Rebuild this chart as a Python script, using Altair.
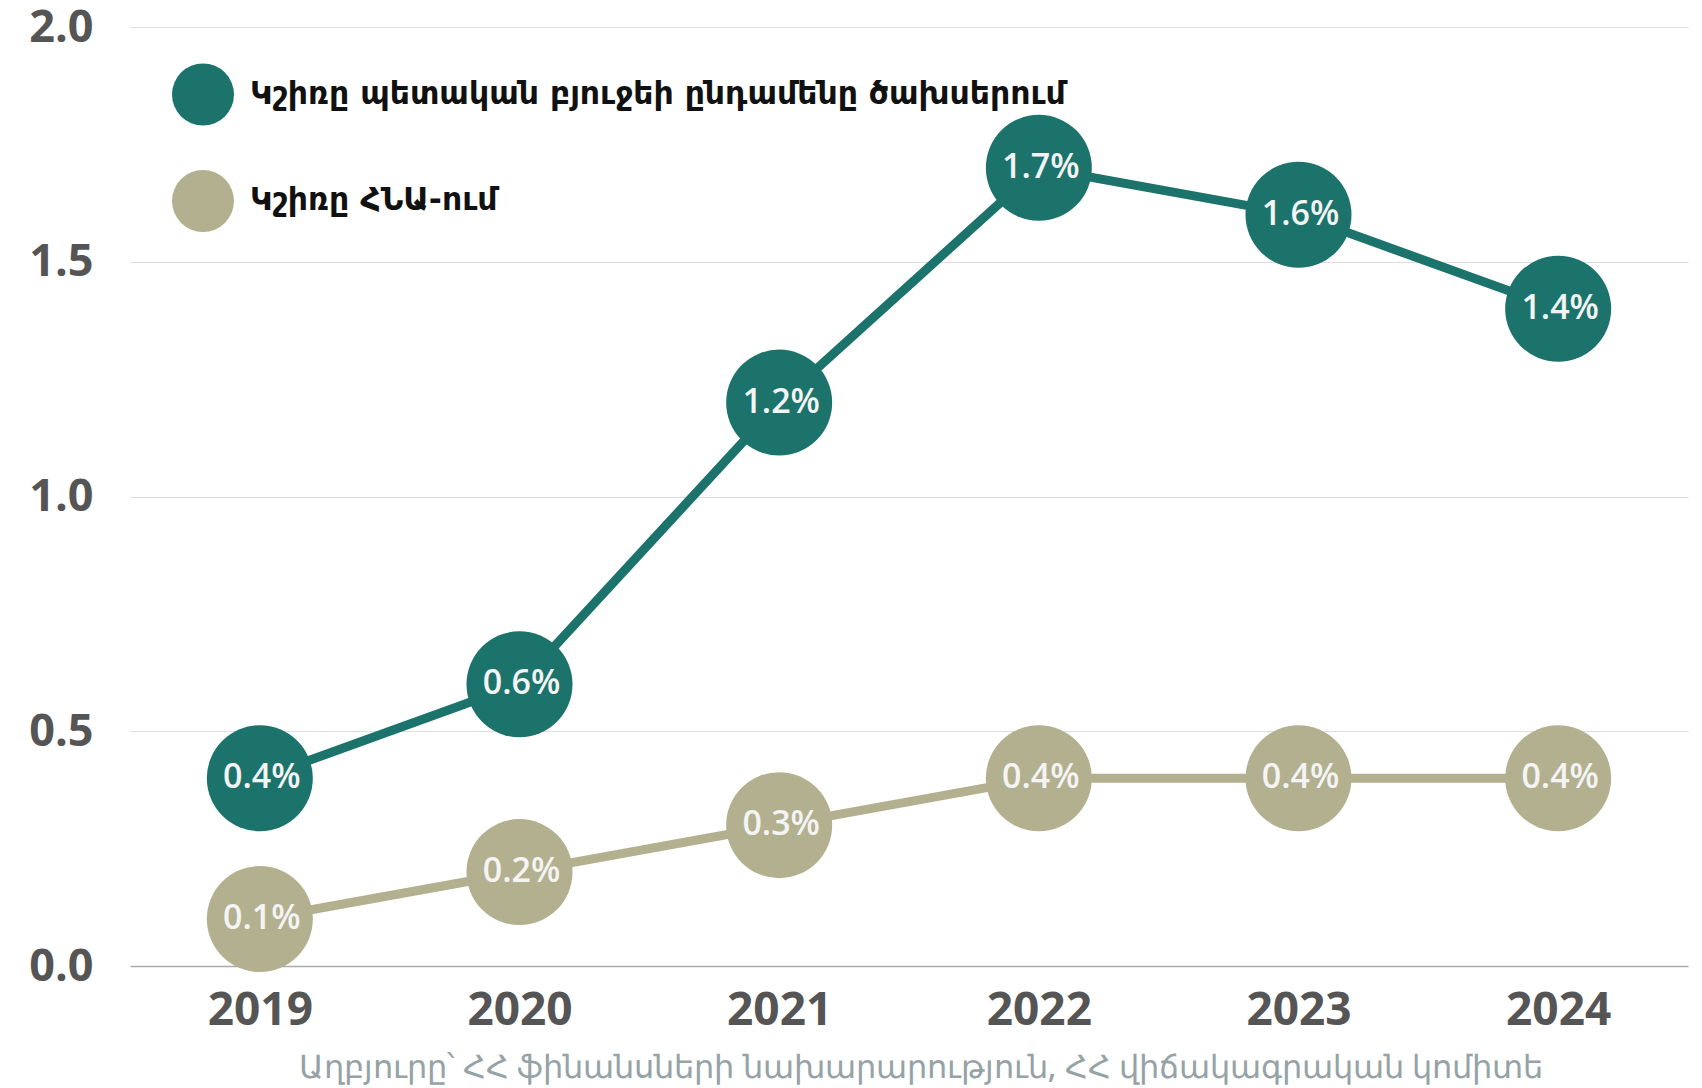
import altair as alt
import pandas as pd

years = ["2019", "2020", "2021", "2022", "2023", "2024"]
series_names = ["Կշիռը պետական բյուջեի ընդամենը ծախսերում", "Կշիռը ՀՆԱ-ում"]
budget_share = [0.4, 0.6, 1.2, 1.7, 1.6, 1.4]
gdp_share = [0.1, 0.2, 0.3, 0.4, 0.4, 0.4]
colors = ["#1b736b", "#b3b08f"]
source_text = "Աղբյուրը՝ ՀՀ ֆինանսների նախարարություն, ՀՀ վիճակագրական կոմիտե"

rows = []
for i, y in enumerate(years):
    rows.append({"year": y, "series": series_names[0], "value": budget_share[i],
                 "label": f"{budget_share[i]:.1f}%"})
    rows.append({"year": y, "series": series_names[1], "value": gdp_share[i],
                 "label": f"{gdp_share[i]:.1f}%"})
df = pd.DataFrame(rows)
legend_df = pd.DataFrame({"series": series_names})

x_enc = alt.X("year:O", scale=alt.Scale(type="point", padding=0.5),
              axis=alt.Axis(title=None, labelAngle=0, ticks=False, domain=True,
                            domainColor="#aaaaaa", domainWidth=1.5,
                            labelFont="Open Sans", labelFontWeight="bold",
                            labelFontSize=46, labelColor="#555555", labelPadding=22,
                            grid=False))
y_enc = alt.Y("value:Q", scale=alt.Scale(domain=[0, 2], nice=False, zero=True),
              axis=alt.Axis(title=None, values=[0, 0.5, 1.0, 1.5, 2.0], format=".1f",
                            ticks=False, domain=False, grid=True, gridColor="#dddddd",
                            gridWidth=1.2, labelFont="Open Sans", labelFontWeight="bold",
                            labelFontSize=45, labelColor="#555555", labelPadding=37))
color_scale = alt.Scale(domain=series_names, range=colors)

base = alt.Chart(df)

lines = base.mark_line(strokeWidth=9).encode(
    x=x_enc, y=y_enc,
    color=alt.Color("series:N", scale=color_scale, legend=None),
    detail="series:N",
)

points = base.mark_circle(size=11240, opacity=1).encode(
    x=x_enc, y=y_enc,
    color=alt.Color("series:N", scale=color_scale, legend=None),
)

labels = base.mark_text(font="Open Sans", fontSize=34, fontWeight=600, color="#f4f4f4",
                        align="center", baseline="middle", dx=2).encode(
    x=x_enc, y=y_enc, text="label:N"
)

main = alt.layer(lines, points, labels)

# legend drawn as its own layer
leg_y = alt.Y("series:N", scale=alt.Scale(type="point", domain=series_names,
                                          range=[67.5, 174], padding=0), axis=None)
leg_base = alt.Chart(legend_df)
leg_symbols = leg_base.mark_circle(size=3844, opacity=1).encode(
    x=alt.value(73), y=leg_y,
    color=alt.Color("series:N", scale=color_scale, legend=None),
)
leg_text = leg_base.mark_text(font="DejaVu Sans", fontSize=31.5,
                              fontWeight="bold", color="#111111",
                              align="left", baseline="middle").encode(
    x=alt.value(120), y=leg_y, text="series:N"
)
legend_layer = alt.layer(leg_symbols, leg_text)

chart = alt.layer(main, legend_layer).resolve_scale(y="independent").properties(
    width=1558, height=939,
    autosize=alt.AutoSizeParams(type="none"),
    padding={"left": 122, "top": 19, "right": 6, "bottom": 122},
    title=alt.TitleParams(text=source_text, orient="bottom", anchor="middle",
                          font="Noto Sans", fontSize=32, fontWeight=500,
                          color="#95a3a6", offset=20, dx=12),
).configure(background="white").configure_view(stroke=None)

chart.save("out.html", embed_options={"renderer": "svg", "actions": False})
